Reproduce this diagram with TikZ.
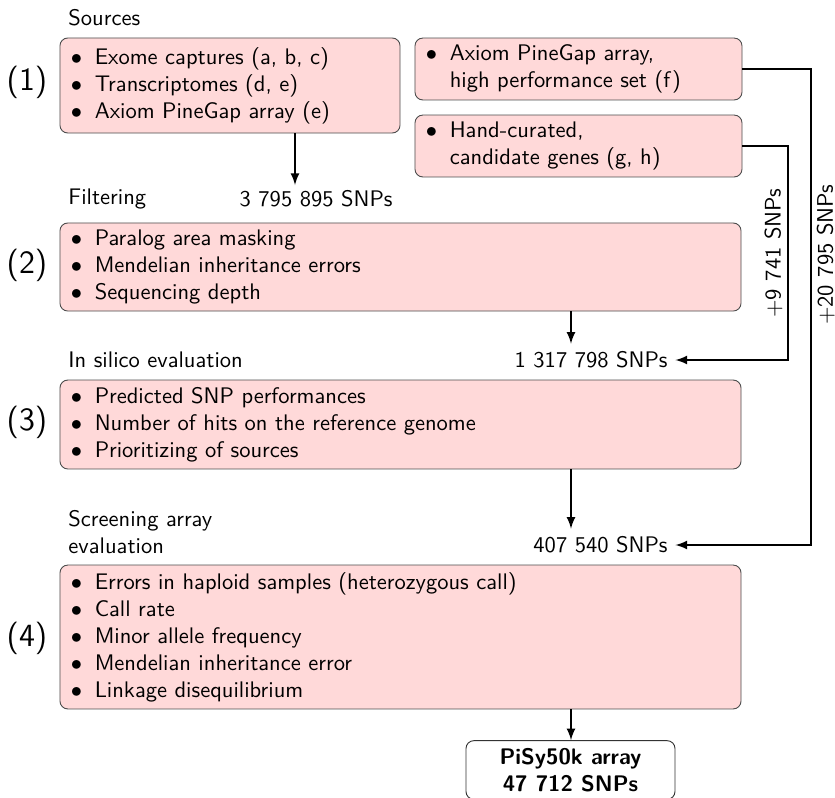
\documentclass[tikz,border=0pt]{standalone}
\usepackage{xcolor}
\usetikzlibrary{arrows,calc,positioning}
\newcommand{\upx}{0.444pt}
\newcommand{\itm}{\hspace{1.3pt}$\bullet$\hspace{5.6pt}}
\newcommand{\ind}{\hspace{1.3pt}\phantom{$\bullet$}\hspace{5.6pt}}

\begin{document}
\begin{tikzpicture}[x=\upx,y=-\upx,>=latex,font=\sffamily,
    stagebox/.style={draw=black!70,fill=red!15,rounded corners=3.5pt,
      align=left,inner xsep=3.55pt,inner ysep=0pt},
    count/.style={anchor=east},
    title/.style={anchor=west,align=left},
    stagenum/.style={font=\sffamily\Large}]
    \useasboundingbox (0,0) rectangle (835,798);
    % boxes
    \node[stagebox,text width=143.9pt,minimum height=42.2pt] (srcA) at (230,85.5)
      {\itm Exome captures (a, b, c)\\ \itm Transcriptomes (d, e)\\ \itm Axiom PineGap array (e)};
    \node[stagebox,text width=138.1pt,minimum height=27.5pt] (srcF) at (578.5,69)
      {\itm Axiom PineGap array,\\ \ind high performance set (f)};
    \node[stagebox,text width=138.1pt,minimum height=27.5pt] (srcG) at (578.5,146)
      {\itm Hand-curated,\\ \ind candidate genes (g, h)};
    \node[stagebox,text width=295.3pt,minimum height=39.1pt] (filt) at (400.5,267)
      {\itm Paralog area masking\\ \itm Mendelian inheritance errors\\ \itm Sequencing depth};
    \node[stagebox,text width=295.3pt,minimum height=39.5pt] (silico) at (400.5,424.5)
      {\itm Predicted SNP performances\\ \itm Number of hits on the reference genome\\ \itm Prioritizing of sources};
    \node[stagebox,text width=295.3pt,minimum height=63.9pt] (screen) at (400.5,637)
      {\itm Errors in haploid samples (heterozygous call)\\ \itm Call rate\\ \itm Minor allele frequency\\
       \itm Mendelian inheritance error\\ \itm Linkage disequilibrium};
    \node[draw=black!80,fill=white,rounded corners=3.5pt,align=center,font=\sffamily\bfseries,
      minimum width=92.8pt,minimum height=24pt] (final) at (570.5,770)
      {PiSy50k array\\ 47 712 SNPs};
    % titles and stage numbers
    \node[title] (tSrc) at (60.5,18) {Sources};
    \node[title] (tFilt) at (60.5,199) {Filtering};
    \node[title] (tSil) at (60.5,360) {In silico evaluation};
    \node[title] (tScr) at (60.5,532) {Screening array\\evaluation};
    \node[stagenum] (s1) at (27,82) {(1)};
    \node[stagenum] (s2) at (27,265) {(2)};
    \node[stagenum] (s3) at (27,422) {(3)};
    \node[stagenum] (s4) at (27,638) {(4)};
    % SNP counts
    \node[count] (n1) at (400.5,199) {3 795 895 SNPs};
    \node[count] (n2) at (675.5,360) {1 317 798 SNPs};
    \node[count] (n3) at (675.5,545) {407 540 SNPs};
    \coordinate (a1) at (295,185);
    \coordinate (a2) at (571,0);
    \coordinate (cg) at (788,0);
    \coordinate (cf) at (811,0);
    % arrows
    \draw[->,thick] (srcA.south -| a1) -- (a1);
    \draw[->,thick] (filt.south -| a2) -- (n2.north -| a2);
    \draw[->,thick] (silico.south -| a2) -- (n3.north -| a2);
    \draw[->,thick] (screen.south -| a2) -- (final.north -| a2);
    \draw[->,thick] (srcG.east) -- (srcG.east -| cg)
      -- node[midway,above,rotate=90,inner sep=2pt] {+9 741 SNPs} (n2.east -| cg) -- (n2.east);
    \draw[->,thick] (srcF.east) -- (srcF.east -| cf)
      -- node[pos=0.39,below,rotate=90,inner sep=2.2pt] {+20 795 SNPs} (n3.east -| cf) -- (n3.east);
  \end{tikzpicture}
\end{document}
